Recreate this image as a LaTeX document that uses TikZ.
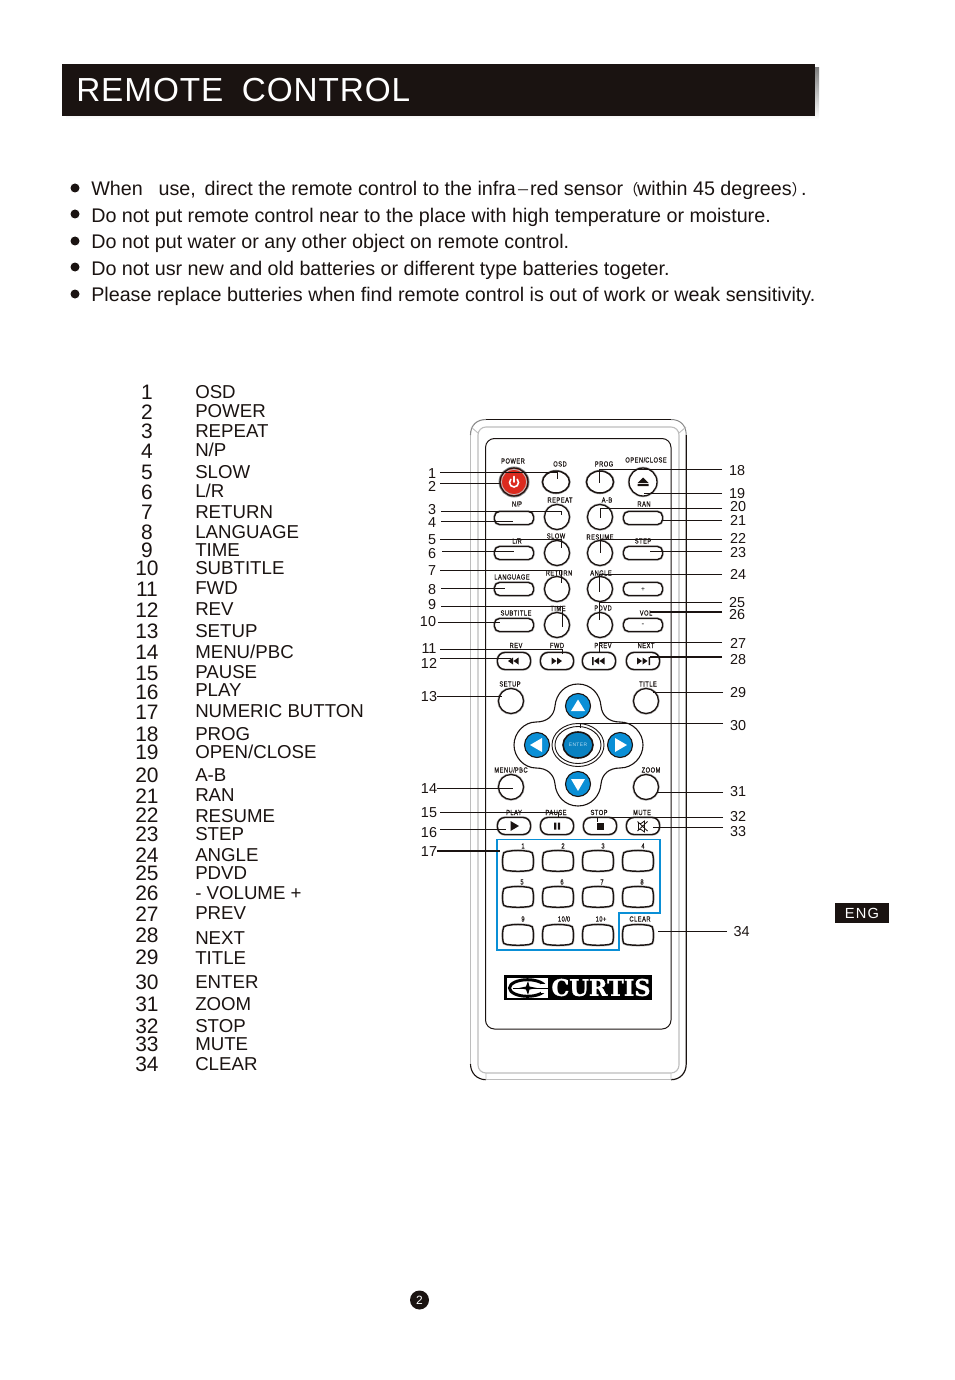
\documentclass[tikz,border=0pt]{standalone}
\usepackage{fontspec}
\usepackage{graphicx}
\usetikzlibrary{shapes.geometric}
\setmainfont{Liberation Sans}
\newfontfamily\cjk{Noto Sans CJK SC}
\newfontfamily\boldlogo{DejaVu Serif}[FakeBold=1.2]
\newfontfamily\tinyfam{Liberation Sans}[FakeStretch=0.78,FakeBold=0.25,LetterSpace=7]
\newdimen\ux \ux=0.75pt
\definecolor{ink}{HTML}{1A1311}
\definecolor{shade}{HTML}{DDDDDD}
\definecolor{ltgray}{HTML}{BDBDBD}
\definecolor{midgray}{HTML}{8A8A8A}
\definecolor{pblue}{HTML}{0A8FD6}
\definecolor{pred}{HTML}{DC2A1E}
\newcommand{\bodyf}{\fontsize{14.79}{18}\selectfont}
\newcommand{\numf}{\fontsize{15.7}{18}\selectfont}
\newcommand{\listf}{\fontsize{14}{18}\selectfont}
\newcommand{\callf}{\fontsize{10.8}{12}\selectfont}
\newcommand{\tinyf}{\fontsize{5.5}{6}\tinyfam\selectfont}
\newcommand{\widef}{\cjk\fontsize{10.5}{12}\selectfont}
\newcommand{\parenf}{\cjk\fontsize{11.5}{12}\selectfont}
\tikzset{
  x=0.75pt,y=-0.75pt,
  calltext/.style={inner sep=0,font=\callf,text=ink},
  lead/.style={draw=ink,line width=0.9*\ux},
  leadb/.style={draw=ink,line width=1.5*\ux},
  halo/.style={preaction={draw=ltgray,line width=2.6*\ux}},
  roundbtn/.style={circle,draw=ink,line width=1.3*\ux,fill=white,halo,inner sep=0,minimum size=25*\ux},
  ovalbtn/.style={ellipse,draw=ink,line width=1.5*\ux,fill=white,halo,inner sep=0,minimum width=27*\ux,minimum height=22*\ux},
  pillbtn/.style={rectangle,rounded corners=5*\ux,draw=ink,line width=1.4*\ux,fill=white,halo,inner sep=0,minimum width=39*\ux,minimum height=13*\ux},
  transbtn/.style={rectangle,rounded corners=7.5*\ux,draw=ink,line width=1.4*\ux,fill=white,halo,inner sep=0,minimum width=33*\ux,minimum height=17*\ux},
  arrowbtn/.style={circle,draw=ink,line width=1.1*\ux,fill=pblue,inner sep=0,minimum size=25*\ux},
  tinylab/.style={inner sep=0,anchor=base,font=\tinyf,text=ink},
  listnum/.style={inner sep=0,anchor=base,font=\numf,text=ink},
  listtext/.style={inner sep=0,anchor=base west,font=\listf,text=ink},
  bodytext/.style={inner sep=0,anchor=base west,font=\bodyf,text=ink},
  bulletdot/.style={circle,fill=ink,inner sep=0,minimum size=9*\ux},
}
\newcommand{\numbtn}[3]{% name x y
  \coordinate (#1) at (#2,#3);
  \draw[ink,line width=1.4*\ux,fill=white,halo,shift={(#2,#3)}]
    (-11,-9.5) .. controls (-4,-10.8) and (4,-10.8) .. (11,-9.5)
    .. controls (14,-9) and (15,-8) .. (15,-5) .. controls (15.5,-2) and (15.5,2) .. (15,6)
    .. controls (15,8) and (14,9) .. (11,9.5) .. controls (4,10.5) and (-4,10.5) .. (-11,9.5)
    .. controls (-14,9) and (-15,8) .. (-15,6) .. controls (-15.5,2) and (-15.5,-2) .. (-15,-5)
    .. controls (-15,-8) and (-14,-9) .. (-11,-9.5) -- cycle;
}
\begin{document}
\begin{tikzpicture}
\useasboundingbox (0,0) rectangle (954,1380);
% Header
\fill[shade] (66,68) rectangle (819,119);
\fill[ink] (62,64) rectangle (815,116);
\node[inner sep=0,anchor=base west,text=white,font=\fontsize{25}{28}\selectfont\addfontfeature{LetterSpace=2.7}] (title) at (76,102) {REMOTE\hspace{0.25em} CONTROL};
% Bullets
\foreach \i/\yy/\dy/\t in {
 a/196/188/{When\hspace{0.8em}use,\hspace{0.45em}direct the remote control to the infra{\widef －}red sensor{\parenf （}\hspace{-1pt}within 45 degrees{\parenf ）}\hspace{-4.5pt}.},
 b/222.5/214/{Do not put remote control near to the place with high temperature or moisture.},
 c/248/241/{Do not put water or any other object on remote control.},
 d/275/267/{Do not usr new and old batteries or different type batteries togeter.},
 e/301/294/{Please replace butteries when find remote control is out of work or weak sensitivity.}}{
  \node[bulletdot] (dot\i) at (75,\dy) {};
  \node[bodytext] (line\i) at (91,\yy) {\t};
}
% Function list
\foreach \i/\a/\t/\b in {1/392/OSD/392,2/412/POWER/411,3/431/REPEAT/431,4/451/N\slash P/450,5/472/SLOW/472,6/492/L\slash R/491,7/512/RETURN/512,8/532/LANGUAGE/532,9/550/TIME/550,10/568/SUBTITLE/568,11/589/FWD/588,12/610/REV/609,13/631/SETUP/631,14/652/MENU\slash PBC/652,15/673/PAUSE/672,16/692/PLAY/690,17/712/NUMERIC BUTTON/711,18/734/PROG/734,19/752/OPEN\slash CLOSE/752,20/775/A-B/775,21/796/RAN/795,22/815/RESUME/816,23/834/STEP/834,24/855/ANGLE/855,25/873/PDVD/873,26/893/- VOLUME +/893,27/914/PREV/913,28/935/NEXT/938,29/957/TITLE/958,30/982/ENTER/982,31/1004/ZOOM/1004,32/1026/STOP/1026,33/1044/MUTE/1044,34/1064/CLEAR/1064}{
  \node[listnum] (num\i) at (147,\a+7.5) {\i};
  \node[listtext] (fn\i) at (195,\b+6.8) {\t};
}
% Remote body
\draw[ltgray,line width=1.1*\ux,rounded corners=8*\ux] (478,620) -- (478,427) -- (679,427) -- (679,1073) -- (478,1073) -- cycle;
\draw[ltgray,line width=1.1*\ux] (470.5,435) -- (470.5,1064);
\draw[midgray,line width=1.1*\ux] (470.5,435) .. controls (470.5,425) and (477,419.5) .. (486,419.5);
\draw[ink,line width=1*\ux] (486,419.5) -- (671,419.5);
\draw[midgray,line width=1*\ux] (671,419.5) .. controls (680,419.5) and (686.2,425) .. (686.2,435);
\draw[ink,line width=1.2*\ux] (686.2,435) -- (686.2,1064) .. controls (686.2,1073) and (680,1079.7) .. (671,1079.7);
\draw[ink,line width=1.1*\ux] (470.5,1064) .. controls (470.5,1073) and (477,1079.7) .. (486,1079.7);
\draw[ltgray,line width=1.1*\ux] (486,1079.7) -- (671,1079.7);
\draw[ltgray,line width=0.9*\ux] (486,1073) -- (486,1080) (671,1073) -- (671,1080) (471,427) -- (478,433) (686,427) -- (679,433);
\draw[ink,line width=1*\ux,rounded corners=9*\ux] (485.5,438.5) rectangle (671,1029);
% Row 1
\node[circle,fill=pred,draw=ink,line width=1.2*\ux,inner sep=0,minimum size=28*\ux,preaction={draw=midgray,line width=3*\ux}] (bpower) at (514,482) {};
\draw[ltgray,line width=0.8*\ux] (514,482) circle (12.6);
\draw[white,line width=1.6*\ux,line cap=round] (514,476.5) -- (514,482);
\draw[white,line width=1.6*\ux,line cap=round] (517.2,479.3) arc[start angle=-45,end angle=225,radius=4.5];
\node[ovalbtn] (bosd) at (556,482) {};
\node[ovalbtn] (bprog) at (600,482) {};
\node[roundbtn,minimum size=28*\ux] (beject) at (643,482) {};
\fill[ink] (643,477.5) -- (648.5,483) -- (637.5,483) -- cycle (637.5,484) rectangle (648.5,486);
% Grid rows
\foreach \n/\yy in {np/518,lr/553,lang/589,sub/625}{ \node[pillbtn] (b\n) at (514,\yy) {}; }
\foreach \n/\yy in {rep/517,slow/553,ret/589,time/625}{ \node[roundbtn] (b\n) at (557,\yy) {}; }
\foreach \n/\yy in {ab/517,res/553,ang/589,pdvd/625}{ \node[roundbtn] (b\n) at (600,\yy) {}; }
\foreach \n/\yy in {ran/518,step/553,plus/589,minus/625}{ \node[pillbtn] (b\n) at (643,\yy) {}; }
\node[inner sep=0,font=\fontsize{5}{6}\selectfont] (plusl) at (643,589.5) {+};
\node[inner sep=0,font=\fontsize{6}{6}\selectfont] (minusl) at (643,625) {-};
% Transport
\node[transbtn] (brev) at (514,661) {};
\node[transbtn] (bfwd) at (557,661) {};
\node[transbtn] (bprev) at (599,661) {};
\node[transbtn] (bnext) at (643,661) {};
\fill[ink] (508,661) -- (513,657.5) -- (513,664.5) -- cycle (513.5,661) -- (518.5,657.5) -- (518.5,664.5) -- cycle;
\fill[ink] (551.5,657.5) -- (556.5,661) -- (551.5,664.5) -- cycle (557,657.5) -- (562,661) -- (557,664.5) -- cycle;
\fill[ink] (592,657) rectangle (593.5,665) (599,657.5) -- (594,661) -- (599,664.5) -- cycle (604.5,657.5) -- (599.5,661) -- (604.5,664.5) -- cycle;
\fill[ink] (650,657) rectangle (648.5,665) (637,657.5) -- (642,661) -- (637,664.5) -- cycle (642.5,657.5) -- (647.5,661) -- (642.5,664.5) -- cycle;
% Setup etc.
\node[roundbtn] (bsetup) at (511,701) {};
\node[roundbtn] (btitle) at (646,701) {};
\node[roundbtn] (bmenu) at (511,787) {};
\node[roundbtn] (bzoom) at (646,787) {};
% D-pad
\draw[ink,line width=1.1*\ux,fill=white] (578,684)
  .. controls (591,684) and (600,694) .. (601,706)
  .. controls (602,716) and (609,722) .. (620,722)
  .. controls (633,722) and (643,733) .. (643,745)
  .. controls (643,757) and (633,768) .. (620,768)
  .. controls (609,768) and (602,774) .. (601,784)
  .. controls (600,796) and (591,806) .. (578,806)
  .. controls (565,806) and (556,796) .. (555,784)
  .. controls (554,774) and (547,768) .. (536,768)
  .. controls (524,768) and (514,757) .. (514,745)
  .. controls (514,733) and (524,722) .. (536,722)
  .. controls (547,722) and (554,716) .. (555,706)
  .. controls (556,694) and (565,684) .. (578,684) -- cycle;
\node[arrowbtn] (bup) at (578,706) {};
\node[arrowbtn] (bleft) at (537,745) {};
\node[arrowbtn] (bright) at (620,745) {};
\node[arrowbtn] (bdown) at (578,784) {};
\fill[white] (578,699.5) -- (585,711) -- (571,711) -- cycle
 (578,791) -- (585,779) -- (571,779) -- cycle
 (530,745) -- (542,738) -- (542,752) -- cycle
 (627,745) -- (615,738) -- (615,752) -- cycle;
\draw[ink,line width=0.9*\ux] (578,745) ellipse (26 and 21.5);
\draw[ink,line width=0.9*\ux] (578,745) ellipse (23 and 18.5);
\node[ellipse,draw=ink,line width=1.6*\ux,fill=pblue!90!black,inner sep=0,minimum width=30*\ux,minimum height=26*\ux,font=\fontsize{3.7}{4}\selectfont\addfontfeature{LetterSpace=8},text=white!70!pblue] (benter) at (578,745) {ENTER};
% Bottom transport
\node[transbtn] (bplay) at (514,826) {};
\node[transbtn] (bpause) at (557,826) {};
\node[transbtn] (bstop) at (600,826) {};
\node[transbtn] (bmute) at (643,826) {};
\fill[ink] (510.5,821) -- (519,826) -- (510.5,831) -- cycle;
\fill[ink] (554,822.5) rectangle (556.3,829.5) (557.8,822.5) rectangle (560.1,829.5);
\fill[ink] (596.5,822.5) rectangle (603.5,829.5);
\draw[ink,line width=0.8*\ux] (638.5,823.5) -- (638.5,829.5) -- (641,829.5) -- (644.5,832) -- (644.5,821) -- (641,823.5) -- cycle (637.5,821.5) -- (647.5,831) (647.5,821.5) -- (637.5,831);
% Number pad
\draw[pblue,line width=1.1*\ux] (497,839.5) -- (660,839.5) -- (660,913) -- (619,913) -- (619,950) -- (497,950) -- cycle;
\foreach \n/\xx/\yy in {n1/518/861,n2/558/861,n3/598/861,n4/638/861,n5/518/897,n6/558/897,n7/598/897,n8/638/897,n9/518/935,n10/558/935,n11/598/935,n12/638/935}{ \numbtn{\n}{\xx}{\yy} }
% Logo
\fill[black] (504,975) rectangle (652,1000);
\fill[white] (507,978) rectangle (547.5,998);
\draw[black,line width=3*\ux] (527.5,988) ellipse (18 and 8.3);
\fill[white] (541,983.5) rectangle (548,992.5);
\draw[black,line width=1*\ux] (513,988) -- (548,988);
\fill[black] (519,988) -- (526,986.5) -- (528,981) -- (529.5,986.5) -- (537,988) -- (529.5,989.5) -- (528,995) -- (526,989.5) -- cycle;
\node[inner sep=0,text=white,font=\boldlogo\bfseries] (logo) at (601,987.5) {\resizebox{99\ux}{17\ux}{CURTIS}};
% Small labels
\foreach \i/\xx/\yy/\t in {a/513/463.5/POWER,b/560/466.5/OSD,c/604/466.5/PROG,d/646/462.5/OPEN\slash CLOSE,e/517/506.5/N\slash P,f/560/502.5/REPEAT,g/607/502.5/A-B,h/644/506.5/RAN,i/517/543.5/L\slash R,j/556/538.5/SLOW,k/600/539.5/RESUME,l/643/543.5/STEP,m/512/579.5/LANGUAGE,n/559/575.5/RETURN,o/601/575.5/ANGLE,p/516/615.5/SUBTITLE,q/558/611/TIME,r/603/610.5/PDVD,s/646/615.5/VOL,t/516/648/REV,u/557/648/FWD,v/603/648/PREV,w/646/648/NEXT,x/510/686.5/SETUP,y/648/686.5/TITLE,z/511/772.5/MENU\slash PBC,aa/651/772.5/ZOOM,ab/514/815/PLAY,ac/556/815/PAUSE,ad/599/815/STOP,ae/642/815/MUTE,af/523/848.5/1,ag/563/848.5/2,ah/603/848.5/3,ai/643/848.5/4,aj/522/884.5/5,ak/562/884.5/6,al/602/884.5/7,am/642/884.5/8,an/523/921.5/9,ao/564/921.5/10\slash 0,ap/601/921.5/10+,aq/640/921.5/CLEAR}{
  \node[tinylab] (lab\i) at (\xx,\yy) {\t};
}
% Left callouts: id/label x/label y/start x/line y/elbow x/end y
\foreach \i/\lx/\ly/\sx/\yy/\ex/\ey in {
 1/432/473.7/440/472/557/479, 2/432/486.7/440/483/500/483, 3/432/509.7/441/511/561/515,
 4/432/522.7/441/521/513/521, 5/432/539.7/440/539/561/548, 6/432/553.7/442/551/514/551,
 7/432/570.7/440/570/561/583, 8/432/589.7/441/588/505/588, 9/432/604.7/441/606/562/627,
 10/428/621.7/438/622/500/622, 11/429/648.7/440/649/562/654, 12/429/663.7/440/658/511/658,
 13/429/696.7/437/696/502/696, 14/429/788.7/437/788/513/788, 15/429/812.7/440/812/558/818,
 16/429/832.7/440/829/506/829}{
  \node[calltext] (t\i) at (\lx,\ly) {\i};
  \coordinate (s\i) at (\sx,\yy);
  \coordinate (c\i) at (\ex,\yy);
  \coordinate (e\i) at (\ex,\ey);
  \draw[lead] (s\i) -- (c\i) -- (e\i);
}
\node[calltext] (t17) at (429,851.7) {17};
\coordinate (s17) at (437,851); \coordinate (e17) at (500,851);
\draw[leadb] (s17) -- (e17);
% Right callouts
\foreach \i/\lx/\ly/\sx/\yy/\ex/\ey in {
 18/737/470.7/722/469/599/483, 19/737/493.7/722/493/644/493, 20/738/506.7/722/508/600/518,
 21/738/520.7/722/520/662/520, 22/738/538.7/722/539/600/553, 23/738/552.7/722/551/650/551,
 24/738/574.7/722/574/599/592, 25/737/602.7/722/602/599/620, 27/738/643.7/722/642/599/653,
 29/738/692.7/723/692/653/692, 30/738/725.7/723/723/580/728, 31/738/791.7/723/792/657/792,
 32/738/816.7/723/817/597/822, 33/738/831.7/723/827/653/827, 34/741.5/931.7/727/931/658/931}{
  \node[calltext] (t\i) at (\lx,\ly) {\i};
  \coordinate (s\i) at (\sx,\yy);
  \coordinate (c\i) at (\ex,\yy);
  \coordinate (e\i) at (\ex,\ey);
  \draw[lead] (s\i) -- (c\i) -- (e\i);
}
\foreach \i/\lx/\ly/\yy in {26/737/614.7/612,28/738/659.7/657}{
  \node[calltext] (t\i) at (\lx,\ly) {\i};
  \coordinate (s\i) at (722,\yy); \coordinate (e\i) at (650,\yy);
  \draw[leadb] (s\i) -- (e\i);
}
% ENG tag
\fill[ink] (835,903) rectangle (889,922.5);
\node[inner sep=0,text=white,font=\fontsize{11}{12}\selectfont\addfontfeature{LetterSpace=8}] (eng) at (862,913) {ENG};
% Page number
\node[circle,fill=ink,inner sep=0,minimum size=19*\ux,text=white,font=\fontsize{9}{10}\selectfont] (page) at (419.5,1300) {2};
\end{tikzpicture}
\end{document}
